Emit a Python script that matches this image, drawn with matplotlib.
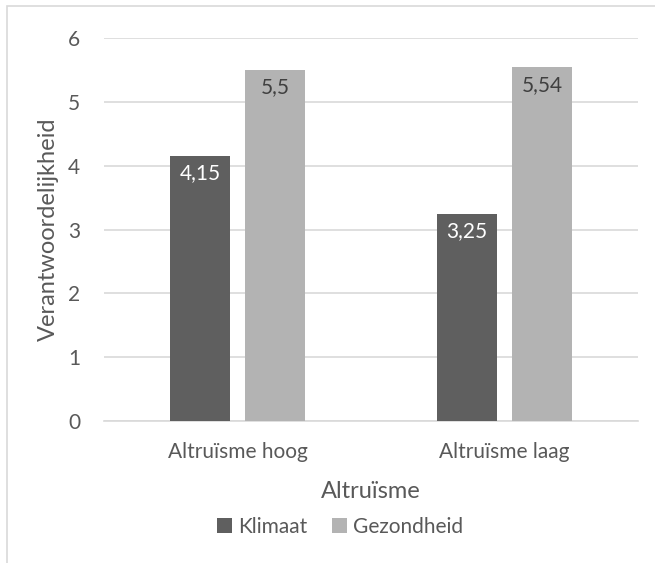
import matplotlib.pyplot as plt
from matplotlib.patches import Rectangle
import numpy as np

plt.rcParams['font.family'] = ['Lato', 'DejaVu Sans']

categories = ['Altruïsme hoog', 'Altruïsme laag']
klimaat = [4.15, 3.25]
gezondheid = [5.5, 5.54]
klimaat_labels = ['4,15', '3,25']
gezondheid_labels = ['5,5', '5,54']

text_col = '#595959'
grid_col = '#d9d9d9'
dark = '#5f5f5f'
light = '#b3b3b3'

fig = plt.figure(figsize=(6.55, 5.63), dpi=100)
ax = fig.add_axes([104/655, 1 - 421/563, (638-104)/655, (421-38)/563])

# chart area border (only top and left visible in the crop)
fig.patches.append(Rectangle((7/655, -0.5), 2, 1 - 6/563 + 0.5, transform=fig.transFigure,
                             fill=False, edgecolor=grid_col, linewidth=1.2))

x = np.arange(len(categories))
w = 0.225
off = 0.14
b1 = ax.bar(x - off, klimaat, w, color=dark, label='Klimaat', zorder=3)
b2 = ax.bar(x + off, gezondheid, w, color=light, label='Gezondheid', zorder=3)

for rect, lab in zip(b1, klimaat_labels):
    ax.annotate(lab, (rect.get_x() + rect.get_width()/2, rect.get_height()),
                xytext=(0, -12.5), textcoords='offset points', ha='center', va='center',
                color='white', fontsize=15, zorder=4)
for rect, lab in zip(b2, gezondheid_labels):
    ax.annotate(lab, (rect.get_x() + rect.get_width()/2, rect.get_height()),
                xytext=(0, -12.5), textcoords='offset points', ha='center', va='center',
                color='#404040', fontsize=15, zorder=4)

ax.set_xlim(-0.5, 1.5)
ax.set_ylim(0, 6)
ax.set_yticks(range(0, 7))
ax.set_xticks(x)
ax.set_xticklabels(categories)
ax.yaxis.grid(True, color=grid_col, linewidth=1.2, zorder=0)
ax.set_axisbelow(True)
for s in ['top', 'right', 'left']:
    ax.spines[s].set_visible(False)
ax.spines['bottom'].set_color(grid_col)
ax.spines['bottom'].set_linewidth(1.2)
ax.tick_params(axis='y', length=0, pad=17, labelsize=15, labelcolor=text_col)
ax.tick_params(axis='x', length=0, pad=15, labelsize=15, labelcolor=text_col)

ax.set_xlabel('Altruïsme', fontsize=17, color=text_col, labelpad=14)
ax.set_ylabel('Verantwoordelijkheid', fontsize=17, color=text_col, labelpad=7)

fig.legend(handles=[b1, b2], loc='center', bbox_to_anchor=(340/655, 1 - 527/563), ncol=2,
           frameon=False, fontsize=15, handlelength=0.7, handleheight=0.7,
           handletextpad=0.3, columnspacing=1.2, labelcolor=text_col)

fig.savefig('out.png', dpi=100)
